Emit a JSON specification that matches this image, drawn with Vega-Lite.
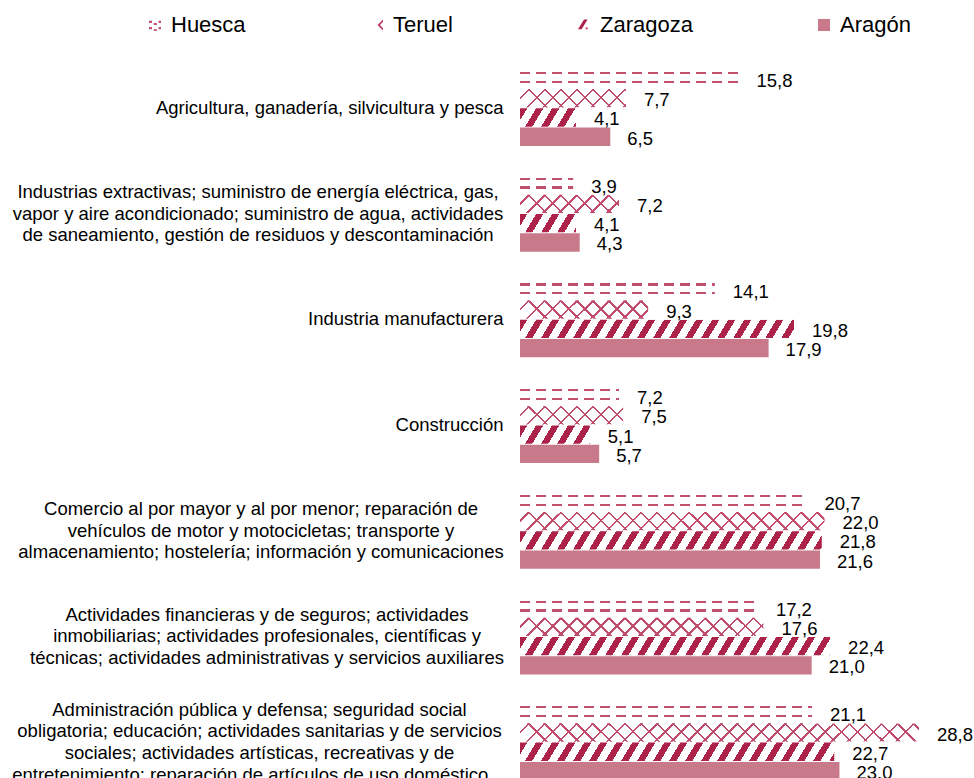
{
  "$schema": "https://vega.github.io/schema/vega-lite/v6.json",
  "width": 400,
  "height": 740,
  "autosize": {"type": "none"},
  "padding": {"left": 520, "top": 55, "right": 54, "bottom": 0},
  "background": "#ffffff",
  "config": {
    "view": {"stroke": null},
    "font": "Liberation Sans",
    "locale": {"number": {"decimal": ",", "thousands": ".", "grouping": [3], "currency": ["", " €"]}}
  },
  "data": {
    "values": [
      {"cat": "Agricultura, ganadería, silvicultura y pesca", "region": "Huesca", "value": 15.8},
      {"cat": "Agricultura, ganadería, silvicultura y pesca", "region": "Teruel", "value": 7.7},
      {"cat": "Agricultura, ganadería, silvicultura y pesca", "region": "Zaragoza", "value": 4.1},
      {"cat": "Agricultura, ganadería, silvicultura y pesca", "region": "Aragón", "value": 6.5},
      {"cat": "Industrias extractivas;  suministro de energía eléctrica, gas,|vapor y aire acondicionado; suministro de agua, actividades|de saneamiento, gestión de residuos y descontaminación", "region": "Huesca", "value": 3.9},
      {"cat": "Industrias extractivas;  suministro de energía eléctrica, gas,|vapor y aire acondicionado; suministro de agua, actividades|de saneamiento, gestión de residuos y descontaminación", "region": "Teruel", "value": 7.2},
      {"cat": "Industrias extractivas;  suministro de energía eléctrica, gas,|vapor y aire acondicionado; suministro de agua, actividades|de saneamiento, gestión de residuos y descontaminación", "region": "Zaragoza", "value": 4.1},
      {"cat": "Industrias extractivas;  suministro de energía eléctrica, gas,|vapor y aire acondicionado; suministro de agua, actividades|de saneamiento, gestión de residuos y descontaminación", "region": "Aragón", "value": 4.3},
      {"cat": "Industria manufacturera", "region": "Huesca", "value": 14.1},
      {"cat": "Industria manufacturera", "region": "Teruel", "value": 9.3},
      {"cat": "Industria manufacturera", "region": "Zaragoza", "value": 19.8},
      {"cat": "Industria manufacturera", "region": "Aragón", "value": 17.9},
      {"cat": "Construcción", "region": "Huesca", "value": 7.2},
      {"cat": "Construcción", "region": "Teruel", "value": 7.5},
      {"cat": "Construcción", "region": "Zaragoza", "value": 5.1},
      {"cat": "Construcción", "region": "Aragón", "value": 5.7},
      {"cat": "Comercio al por mayor y al por menor; reparación de|vehículos de motor y motocicletas; transporte y|almacenamiento; hostelería; información y comunicaciones", "region": "Huesca", "value": 20.7},
      {"cat": "Comercio al por mayor y al por menor; reparación de|vehículos de motor y motocicletas; transporte y|almacenamiento; hostelería; información y comunicaciones", "region": "Teruel", "value": 22.0},
      {"cat": "Comercio al por mayor y al por menor; reparación de|vehículos de motor y motocicletas; transporte y|almacenamiento; hostelería; información y comunicaciones", "region": "Zaragoza", "value": 21.8},
      {"cat": "Comercio al por mayor y al por menor; reparación de|vehículos de motor y motocicletas; transporte y|almacenamiento; hostelería; información y comunicaciones", "region": "Aragón", "value": 21.6},
      {"cat": "Actividades financieras y de seguros; actividades|inmobiliarias; actividades profesionales, científicas y|técnicas; actividades administrativas y servicios auxiliares", "region": "Huesca", "value": 17.2},
      {"cat": "Actividades financieras y de seguros; actividades|inmobiliarias; actividades profesionales, científicas y|técnicas; actividades administrativas y servicios auxiliares", "region": "Teruel", "value": 17.6},
      {"cat": "Actividades financieras y de seguros; actividades|inmobiliarias; actividades profesionales, científicas y|técnicas; actividades administrativas y servicios auxiliares", "region": "Zaragoza", "value": 22.4},
      {"cat": "Actividades financieras y de seguros; actividades|inmobiliarias; actividades profesionales, científicas y|técnicas; actividades administrativas y servicios auxiliares", "region": "Aragón", "value": 21.0},
      {"cat": "Administración pública y defensa; seguridad social|obligatoria; educación; actividades sanitarias y de servicios|sociales; actividades artísticas, recreativas y de|entretenimiento; reparación de artículos de uso doméstico…", "region": "Huesca", "value": 21.1},
      {"cat": "Administración pública y defensa; seguridad social|obligatoria; educación; actividades sanitarias y de servicios|sociales; actividades artísticas, recreativas y de|entretenimiento; reparación de artículos de uso doméstico…", "region": "Teruel", "value": 28.8},
      {"cat": "Administración pública y defensa; seguridad social|obligatoria; educación; actividades sanitarias y de servicios|sociales; actividades artísticas, recreativas y de|entretenimiento; reparación de artículos de uso doméstico…", "region": "Zaragoza", "value": 22.7},
      {"cat": "Administración pública y defensa; seguridad social|obligatoria; educación; actividades sanitarias y de servicios|sociales; actividades artísticas, recreativas y de|entretenimiento; reparación de artículos de uso doméstico…", "region": "Aragón", "value": 23.0}
    ]
  },
  "encoding": {
    "y": {
      "field": "cat", "type": "nominal", "sort": null, "title": null,
      "scale": {"paddingInner": 0.28, "paddingOuter": 0.14},
      "axis": {
        "domain": false, "ticks": false, "grid": false,
        "labelFontSize": 18.5, "labelFont": "Liberation Sans", "labelColor": "#000000", "labelLimit": 600, "labelLineHeight": 21.7,
        "labelExpr": "split(datum.label, '|')",
        "labelAlign": {"condition": {"test": "indexof(datum.value, '|') >= 0", "value": "center"}, "value": "right"},
        "labelPadding": {"condition": [
          {"test": "indexof(datum.value, 'Industrias') === 0", "value": 262.5},
          {"test": "indexof(datum.value, 'Comercio') === 0", "value": 259.5},
          {"test": "indexof(datum.value, 'Actividades') === 0", "value": 253.5},
          {"test": "indexof(datum.value, 'Administración') === 0", "value": 261}], "value": 17},
        "labelOffset": {"condition": [
          {"test": "length(split(datum.value, '|')) === 4", "value": -32.55},
          {"test": "length(split(datum.value, '|')) === 3", "value": -21.7}], "value": 0}
      }
    },
    "yOffset": {"field": "region", "type": "nominal", "sort": ["Huesca", "Teruel", "Zaragoza", "Aragón"], "scale": {"paddingInner": 0.05}}
  },
  "layer": [
    {
      "transform": [{"filter": "datum.region === 'Huesca'"}],
      "mark": {"type": "bar", "fill": {"gradient": "linear", "x1": 0, "y1": 0, "x2": 0, "y2": 1, "stops": [
        {"offset": 0, "color": "#ffffff"}, {"offset": 0.12, "color": "#ffffff"}, {"offset": 0.12, "color": "#c0506c"}, {"offset": 0.24, "color": "#c0506c"},
        {"offset": 0.24, "color": "#ffffff"}, {"offset": 0.6, "color": "#ffffff"}, {"offset": 0.6, "color": "#c0506c"}, {"offset": 0.72, "color": "#c0506c"},
        {"offset": 0.72, "color": "#ffffff"}, {"offset": 1, "color": "#ffffff"}]}},
      "encoding": {"x": {"datum": 28.8, "type": "quantitative", "scale": {"domain": [0, 28.8], "nice": false}, "axis": null}}
    },
    {
      "transform": [{"filter": "datum.region === 'Huesca'"}],
      "mark": {"type": "bar", "fill": {"gradient": "linear", "x1": 0, "y1": 0, "x2": 1, "y2": 0, "stops": [
        {"offset": 0, "color": "rgba(255,255,255,0)"}, {"offset": 0.024, "color": "rgba(255,255,255,0)"}, {"offset": 0.024, "color": "#ffffff"}, {"offset": 0.04, "color": "#ffffff"},
        {"offset": 0.04, "color": "rgba(255,255,255,0)"}, {"offset": 0.064, "color": "rgba(255,255,255,0)"}, {"offset": 0.064, "color": "#ffffff"}, {"offset": 0.08, "color": "#ffffff"},
        {"offset": 0.08, "color": "rgba(255,255,255,0)"}, {"offset": 0.104, "color": "rgba(255,255,255,0)"}, {"offset": 0.104, "color": "#ffffff"}, {"offset": 0.12, "color": "#ffffff"},
        {"offset": 0.12, "color": "rgba(255,255,255,0)"}, {"offset": 0.144, "color": "rgba(255,255,255,0)"}, {"offset": 0.144, "color": "#ffffff"}, {"offset": 0.16, "color": "#ffffff"},
        {"offset": 0.16, "color": "rgba(255,255,255,0)"}, {"offset": 0.184, "color": "rgba(255,255,255,0)"}, {"offset": 0.184, "color": "#ffffff"}, {"offset": 0.2, "color": "#ffffff"},
        {"offset": 0.2, "color": "rgba(255,255,255,0)"}, {"offset": 0.224, "color": "rgba(255,255,255,0)"}, {"offset": 0.224, "color": "#ffffff"}, {"offset": 0.24, "color": "#ffffff"},
        {"offset": 0.24, "color": "rgba(255,255,255,0)"}, {"offset": 0.264, "color": "rgba(255,255,255,0)"}, {"offset": 0.264, "color": "#ffffff"}, {"offset": 0.28, "color": "#ffffff"},
        {"offset": 0.28, "color": "rgba(255,255,255,0)"}, {"offset": 0.304, "color": "rgba(255,255,255,0)"}, {"offset": 0.304, "color": "#ffffff"}, {"offset": 0.32, "color": "#ffffff"},
        {"offset": 0.32, "color": "rgba(255,255,255,0)"}, {"offset": 0.344, "color": "rgba(255,255,255,0)"}, {"offset": 0.344, "color": "#ffffff"}, {"offset": 0.36, "color": "#ffffff"},
        {"offset": 0.36, "color": "rgba(255,255,255,0)"}, {"offset": 0.384, "color": "rgba(255,255,255,0)"}, {"offset": 0.384, "color": "#ffffff"}, {"offset": 0.4, "color": "#ffffff"},
        {"offset": 0.4, "color": "rgba(255,255,255,0)"}, {"offset": 0.424, "color": "rgba(255,255,255,0)"}, {"offset": 0.424, "color": "#ffffff"}, {"offset": 0.44, "color": "#ffffff"},
        {"offset": 0.44, "color": "rgba(255,255,255,0)"}, {"offset": 0.464, "color": "rgba(255,255,255,0)"}, {"offset": 0.464, "color": "#ffffff"}, {"offset": 0.48, "color": "#ffffff"},
        {"offset": 0.48, "color": "rgba(255,255,255,0)"}, {"offset": 0.504, "color": "rgba(255,255,255,0)"}, {"offset": 0.504, "color": "#ffffff"}, {"offset": 0.52, "color": "#ffffff"},
        {"offset": 0.52, "color": "rgba(255,255,255,0)"}, {"offset": 0.544, "color": "rgba(255,255,255,0)"}, {"offset": 0.544, "color": "#ffffff"}, {"offset": 0.56, "color": "#ffffff"},
        {"offset": 0.56, "color": "rgba(255,255,255,0)"}, {"offset": 0.584, "color": "rgba(255,255,255,0)"}, {"offset": 0.584, "color": "#ffffff"}, {"offset": 0.6, "color": "#ffffff"},
        {"offset": 0.6, "color": "rgba(255,255,255,0)"}, {"offset": 0.624, "color": "rgba(255,255,255,0)"}, {"offset": 0.624, "color": "#ffffff"}, {"offset": 0.64, "color": "#ffffff"},
        {"offset": 0.64, "color": "rgba(255,255,255,0)"}, {"offset": 0.664, "color": "rgba(255,255,255,0)"}, {"offset": 0.664, "color": "#ffffff"}, {"offset": 0.68, "color": "#ffffff"},
        {"offset": 0.68, "color": "rgba(255,255,255,0)"}, {"offset": 0.704, "color": "rgba(255,255,255,0)"}, {"offset": 0.704, "color": "#ffffff"}, {"offset": 0.72, "color": "#ffffff"},
        {"offset": 0.72, "color": "rgba(255,255,255,0)"}, {"offset": 0.744, "color": "rgba(255,255,255,0)"}, {"offset": 0.744, "color": "#ffffff"}, {"offset": 0.76, "color": "#ffffff"},
        {"offset": 0.76, "color": "rgba(255,255,255,0)"}, {"offset": 0.784, "color": "rgba(255,255,255,0)"}, {"offset": 0.784, "color": "#ffffff"}, {"offset": 0.8, "color": "#ffffff"},
        {"offset": 0.8, "color": "rgba(255,255,255,0)"}, {"offset": 0.824, "color": "rgba(255,255,255,0)"}, {"offset": 0.824, "color": "#ffffff"}, {"offset": 0.84, "color": "#ffffff"},
        {"offset": 0.84, "color": "rgba(255,255,255,0)"}, {"offset": 0.864, "color": "rgba(255,255,255,0)"}, {"offset": 0.864, "color": "#ffffff"}, {"offset": 0.88, "color": "#ffffff"},
        {"offset": 0.88, "color": "rgba(255,255,255,0)"}, {"offset": 0.904, "color": "rgba(255,255,255,0)"}, {"offset": 0.904, "color": "#ffffff"}, {"offset": 0.92, "color": "#ffffff"},
        {"offset": 0.92, "color": "rgba(255,255,255,0)"}, {"offset": 0.944, "color": "rgba(255,255,255,0)"}, {"offset": 0.944, "color": "#ffffff"}, {"offset": 0.96, "color": "#ffffff"},
        {"offset": 0.96, "color": "rgba(255,255,255,0)"}, {"offset": 0.984, "color": "rgba(255,255,255,0)"}, {"offset": 0.984, "color": "#ffffff"}, {"offset": 1, "color": "#ffffff"}]}},
      "encoding": {"x": {"datum": 28.8, "type": "quantitative", "scale": {"domain": [0, 28.8], "nice": false}, "axis": null}}
    },
    {
      "transform": [{"filter": "datum.region === 'Teruel'"}],
      "mark": {"type": "bar", "fill": {"gradient": "linear", "x1": 0, "y1": 0, "x2": 1, "y2": 0.046, "stops": [
        {"offset": 0, "color": "#ffffff"},
        {"offset": 0.02, "color": "#ffffff"}, {"offset": 0.02, "color": "#c24c6c"}, {"offset": 0.026, "color": "#c24c6c"}, {"offset": 0.026, "color": "#ffffff"},
        {"offset": 0.06, "color": "#ffffff"}, {"offset": 0.06, "color": "#c24c6c"}, {"offset": 0.066, "color": "#c24c6c"}, {"offset": 0.066, "color": "#ffffff"},
        {"offset": 0.1, "color": "#ffffff"}, {"offset": 0.1, "color": "#c24c6c"}, {"offset": 0.106, "color": "#c24c6c"}, {"offset": 0.106, "color": "#ffffff"},
        {"offset": 0.14, "color": "#ffffff"}, {"offset": 0.14, "color": "#c24c6c"}, {"offset": 0.146, "color": "#c24c6c"}, {"offset": 0.146, "color": "#ffffff"},
        {"offset": 0.18, "color": "#ffffff"}, {"offset": 0.18, "color": "#c24c6c"}, {"offset": 0.186, "color": "#c24c6c"}, {"offset": 0.186, "color": "#ffffff"},
        {"offset": 0.22, "color": "#ffffff"}, {"offset": 0.22, "color": "#c24c6c"}, {"offset": 0.226, "color": "#c24c6c"}, {"offset": 0.226, "color": "#ffffff"},
        {"offset": 0.26, "color": "#ffffff"}, {"offset": 0.26, "color": "#c24c6c"}, {"offset": 0.266, "color": "#c24c6c"}, {"offset": 0.266, "color": "#ffffff"},
        {"offset": 0.3, "color": "#ffffff"}, {"offset": 0.3, "color": "#c24c6c"}, {"offset": 0.306, "color": "#c24c6c"}, {"offset": 0.306, "color": "#ffffff"},
        {"offset": 0.34, "color": "#ffffff"}, {"offset": 0.34, "color": "#c24c6c"}, {"offset": 0.346, "color": "#c24c6c"}, {"offset": 0.346, "color": "#ffffff"},
        {"offset": 0.38, "color": "#ffffff"}, {"offset": 0.38, "color": "#c24c6c"}, {"offset": 0.386, "color": "#c24c6c"}, {"offset": 0.386, "color": "#ffffff"},
        {"offset": 0.42, "color": "#ffffff"}, {"offset": 0.42, "color": "#c24c6c"}, {"offset": 0.426, "color": "#c24c6c"}, {"offset": 0.426, "color": "#ffffff"},
        {"offset": 0.46, "color": "#ffffff"}, {"offset": 0.46, "color": "#c24c6c"}, {"offset": 0.466, "color": "#c24c6c"}, {"offset": 0.466, "color": "#ffffff"},
        {"offset": 0.5, "color": "#ffffff"}, {"offset": 0.5, "color": "#c24c6c"}, {"offset": 0.506, "color": "#c24c6c"}, {"offset": 0.506, "color": "#ffffff"},
        {"offset": 0.54, "color": "#ffffff"}, {"offset": 0.54, "color": "#c24c6c"}, {"offset": 0.546, "color": "#c24c6c"}, {"offset": 0.546, "color": "#ffffff"},
        {"offset": 0.58, "color": "#ffffff"}, {"offset": 0.58, "color": "#c24c6c"}, {"offset": 0.586, "color": "#c24c6c"}, {"offset": 0.586, "color": "#ffffff"},
        {"offset": 0.62, "color": "#ffffff"}, {"offset": 0.62, "color": "#c24c6c"}, {"offset": 0.626, "color": "#c24c6c"}, {"offset": 0.626, "color": "#ffffff"},
        {"offset": 0.66, "color": "#ffffff"}, {"offset": 0.66, "color": "#c24c6c"}, {"offset": 0.666, "color": "#c24c6c"}, {"offset": 0.666, "color": "#ffffff"},
        {"offset": 0.7, "color": "#ffffff"}, {"offset": 0.7, "color": "#c24c6c"}, {"offset": 0.706, "color": "#c24c6c"}, {"offset": 0.706, "color": "#ffffff"},
        {"offset": 0.74, "color": "#ffffff"}, {"offset": 0.74, "color": "#c24c6c"}, {"offset": 0.746, "color": "#c24c6c"}, {"offset": 0.746, "color": "#ffffff"},
        {"offset": 0.78, "color": "#ffffff"}, {"offset": 0.78, "color": "#c24c6c"}, {"offset": 0.786, "color": "#c24c6c"}, {"offset": 0.786, "color": "#ffffff"},
        {"offset": 0.82, "color": "#ffffff"}, {"offset": 0.82, "color": "#c24c6c"}, {"offset": 0.826, "color": "#c24c6c"}, {"offset": 0.826, "color": "#ffffff"},
        {"offset": 0.86, "color": "#ffffff"}, {"offset": 0.86, "color": "#c24c6c"}, {"offset": 0.866, "color": "#c24c6c"}, {"offset": 0.866, "color": "#ffffff"},
        {"offset": 0.9, "color": "#ffffff"}, {"offset": 0.9, "color": "#c24c6c"}, {"offset": 0.906, "color": "#c24c6c"}, {"offset": 0.906, "color": "#ffffff"},
        {"offset": 0.94, "color": "#ffffff"}, {"offset": 0.94, "color": "#c24c6c"}, {"offset": 0.946, "color": "#c24c6c"}, {"offset": 0.946, "color": "#ffffff"},
        {"offset": 0.98, "color": "#ffffff"}, {"offset": 0.98, "color": "#c24c6c"}, {"offset": 0.986, "color": "#c24c6c"}, {"offset": 0.986, "color": "#ffffff"},
        {"offset": 1, "color": "#ffffff"}]}},
      "encoding": {"x": {"datum": 28.8, "type": "quantitative", "scale": {"domain": [0, 28.8], "nice": false}, "axis": null}}
    },
    {
      "transform": [{"filter": "datum.region === 'Teruel'"}],
      "mark": {"type": "bar", "fill": {"gradient": "linear", "x1": 0, "y1": 0.046, "x2": 1, "y2": 0, "stops": [
        {"offset": 0, "color": "rgba(255,255,255,0)"},
        {"offset": 0.02, "color": "rgba(255,255,255,0)"}, {"offset": 0.02, "color": "#c24c6c"}, {"offset": 0.026, "color": "#c24c6c"}, {"offset": 0.026, "color": "rgba(255,255,255,0)"},
        {"offset": 0.06, "color": "rgba(255,255,255,0)"}, {"offset": 0.06, "color": "#c24c6c"}, {"offset": 0.066, "color": "#c24c6c"}, {"offset": 0.066, "color": "rgba(255,255,255,0)"},
        {"offset": 0.1, "color": "rgba(255,255,255,0)"}, {"offset": 0.1, "color": "#c24c6c"}, {"offset": 0.106, "color": "#c24c6c"}, {"offset": 0.106, "color": "rgba(255,255,255,0)"},
        {"offset": 0.14, "color": "rgba(255,255,255,0)"}, {"offset": 0.14, "color": "#c24c6c"}, {"offset": 0.146, "color": "#c24c6c"}, {"offset": 0.146, "color": "rgba(255,255,255,0)"},
        {"offset": 0.18, "color": "rgba(255,255,255,0)"}, {"offset": 0.18, "color": "#c24c6c"}, {"offset": 0.186, "color": "#c24c6c"}, {"offset": 0.186, "color": "rgba(255,255,255,0)"},
        {"offset": 0.22, "color": "rgba(255,255,255,0)"}, {"offset": 0.22, "color": "#c24c6c"}, {"offset": 0.226, "color": "#c24c6c"}, {"offset": 0.226, "color": "rgba(255,255,255,0)"},
        {"offset": 0.26, "color": "rgba(255,255,255,0)"}, {"offset": 0.26, "color": "#c24c6c"}, {"offset": 0.266, "color": "#c24c6c"}, {"offset": 0.266, "color": "rgba(255,255,255,0)"},
        {"offset": 0.3, "color": "rgba(255,255,255,0)"}, {"offset": 0.3, "color": "#c24c6c"}, {"offset": 0.306, "color": "#c24c6c"}, {"offset": 0.306, "color": "rgba(255,255,255,0)"},
        {"offset": 0.34, "color": "rgba(255,255,255,0)"}, {"offset": 0.34, "color": "#c24c6c"}, {"offset": 0.346, "color": "#c24c6c"}, {"offset": 0.346, "color": "rgba(255,255,255,0)"},
        {"offset": 0.38, "color": "rgba(255,255,255,0)"}, {"offset": 0.38, "color": "#c24c6c"}, {"offset": 0.386, "color": "#c24c6c"}, {"offset": 0.386, "color": "rgba(255,255,255,0)"},
        {"offset": 0.42, "color": "rgba(255,255,255,0)"}, {"offset": 0.42, "color": "#c24c6c"}, {"offset": 0.426, "color": "#c24c6c"}, {"offset": 0.426, "color": "rgba(255,255,255,0)"},
        {"offset": 0.46, "color": "rgba(255,255,255,0)"}, {"offset": 0.46, "color": "#c24c6c"}, {"offset": 0.466, "color": "#c24c6c"}, {"offset": 0.466, "color": "rgba(255,255,255,0)"},
        {"offset": 0.5, "color": "rgba(255,255,255,0)"}, {"offset": 0.5, "color": "#c24c6c"}, {"offset": 0.506, "color": "#c24c6c"}, {"offset": 0.506, "color": "rgba(255,255,255,0)"},
        {"offset": 0.54, "color": "rgba(255,255,255,0)"}, {"offset": 0.54, "color": "#c24c6c"}, {"offset": 0.546, "color": "#c24c6c"}, {"offset": 0.546, "color": "rgba(255,255,255,0)"},
        {"offset": 0.58, "color": "rgba(255,255,255,0)"}, {"offset": 0.58, "color": "#c24c6c"}, {"offset": 0.586, "color": "#c24c6c"}, {"offset": 0.586, "color": "rgba(255,255,255,0)"},
        {"offset": 0.62, "color": "rgba(255,255,255,0)"}, {"offset": 0.62, "color": "#c24c6c"}, {"offset": 0.626, "color": "#c24c6c"}, {"offset": 0.626, "color": "rgba(255,255,255,0)"},
        {"offset": 0.66, "color": "rgba(255,255,255,0)"}, {"offset": 0.66, "color": "#c24c6c"}, {"offset": 0.666, "color": "#c24c6c"}, {"offset": 0.666, "color": "rgba(255,255,255,0)"},
        {"offset": 0.7, "color": "rgba(255,255,255,0)"}, {"offset": 0.7, "color": "#c24c6c"}, {"offset": 0.706, "color": "#c24c6c"}, {"offset": 0.706, "color": "rgba(255,255,255,0)"},
        {"offset": 0.74, "color": "rgba(255,255,255,0)"}, {"offset": 0.74, "color": "#c24c6c"}, {"offset": 0.746, "color": "#c24c6c"}, {"offset": 0.746, "color": "rgba(255,255,255,0)"},
        {"offset": 0.78, "color": "rgba(255,255,255,0)"}, {"offset": 0.78, "color": "#c24c6c"}, {"offset": 0.786, "color": "#c24c6c"}, {"offset": 0.786, "color": "rgba(255,255,255,0)"},
        {"offset": 0.82, "color": "rgba(255,255,255,0)"}, {"offset": 0.82, "color": "#c24c6c"}, {"offset": 0.826, "color": "#c24c6c"}, {"offset": 0.826, "color": "rgba(255,255,255,0)"},
        {"offset": 0.86, "color": "rgba(255,255,255,0)"}, {"offset": 0.86, "color": "#c24c6c"}, {"offset": 0.866, "color": "#c24c6c"}, {"offset": 0.866, "color": "rgba(255,255,255,0)"},
        {"offset": 0.9, "color": "rgba(255,255,255,0)"}, {"offset": 0.9, "color": "#c24c6c"}, {"offset": 0.906, "color": "#c24c6c"}, {"offset": 0.906, "color": "rgba(255,255,255,0)"},
        {"offset": 0.94, "color": "rgba(255,255,255,0)"}, {"offset": 0.94, "color": "#c24c6c"}, {"offset": 0.946, "color": "#c24c6c"}, {"offset": 0.946, "color": "rgba(255,255,255,0)"},
        {"offset": 0.98, "color": "rgba(255,255,255,0)"}, {"offset": 0.98, "color": "#c24c6c"}, {"offset": 0.986, "color": "#c24c6c"}, {"offset": 0.986, "color": "rgba(255,255,255,0)"},
        {"offset": 1, "color": "rgba(255,255,255,0)"}]}},
      "encoding": {"x": {"datum": 28.8, "type": "quantitative", "scale": {"domain": [0, 28.8], "nice": false}, "axis": null}}
    },
    {
      "transform": [{"filter": "datum.region === 'Zaragoza'"}],
      "mark": {"type": "bar", "fill": {"gradient": "linear", "x1": 0, "y1": 0, "x2": 1, "y2": 0.0275, "stops": [
        {"offset": 0, "color": "#ad2249"}, {"offset": 0.018, "color": "#ad2249"}, {"offset": 0.018, "color": "#ffffff"}, {"offset": 0.04, "color": "#ffffff"},
        {"offset": 0.04, "color": "#ad2249"}, {"offset": 0.058, "color": "#ad2249"}, {"offset": 0.058, "color": "#ffffff"}, {"offset": 0.08, "color": "#ffffff"},
        {"offset": 0.08, "color": "#ad2249"}, {"offset": 0.098, "color": "#ad2249"}, {"offset": 0.098, "color": "#ffffff"}, {"offset": 0.12, "color": "#ffffff"},
        {"offset": 0.12, "color": "#ad2249"}, {"offset": 0.138, "color": "#ad2249"}, {"offset": 0.138, "color": "#ffffff"}, {"offset": 0.16, "color": "#ffffff"},
        {"offset": 0.16, "color": "#ad2249"}, {"offset": 0.178, "color": "#ad2249"}, {"offset": 0.178, "color": "#ffffff"}, {"offset": 0.2, "color": "#ffffff"},
        {"offset": 0.2, "color": "#ad2249"}, {"offset": 0.218, "color": "#ad2249"}, {"offset": 0.218, "color": "#ffffff"}, {"offset": 0.24, "color": "#ffffff"},
        {"offset": 0.24, "color": "#ad2249"}, {"offset": 0.258, "color": "#ad2249"}, {"offset": 0.258, "color": "#ffffff"}, {"offset": 0.28, "color": "#ffffff"},
        {"offset": 0.28, "color": "#ad2249"}, {"offset": 0.298, "color": "#ad2249"}, {"offset": 0.298, "color": "#ffffff"}, {"offset": 0.32, "color": "#ffffff"},
        {"offset": 0.32, "color": "#ad2249"}, {"offset": 0.338, "color": "#ad2249"}, {"offset": 0.338, "color": "#ffffff"}, {"offset": 0.36, "color": "#ffffff"},
        {"offset": 0.36, "color": "#ad2249"}, {"offset": 0.378, "color": "#ad2249"}, {"offset": 0.378, "color": "#ffffff"}, {"offset": 0.4, "color": "#ffffff"},
        {"offset": 0.4, "color": "#ad2249"}, {"offset": 0.418, "color": "#ad2249"}, {"offset": 0.418, "color": "#ffffff"}, {"offset": 0.44, "color": "#ffffff"},
        {"offset": 0.44, "color": "#ad2249"}, {"offset": 0.458, "color": "#ad2249"}, {"offset": 0.458, "color": "#ffffff"}, {"offset": 0.48, "color": "#ffffff"},
        {"offset": 0.48, "color": "#ad2249"}, {"offset": 0.498, "color": "#ad2249"}, {"offset": 0.498, "color": "#ffffff"}, {"offset": 0.52, "color": "#ffffff"},
        {"offset": 0.52, "color": "#ad2249"}, {"offset": 0.538, "color": "#ad2249"}, {"offset": 0.538, "color": "#ffffff"}, {"offset": 0.56, "color": "#ffffff"},
        {"offset": 0.56, "color": "#ad2249"}, {"offset": 0.578, "color": "#ad2249"}, {"offset": 0.578, "color": "#ffffff"}, {"offset": 0.6, "color": "#ffffff"},
        {"offset": 0.6, "color": "#ad2249"}, {"offset": 0.618, "color": "#ad2249"}, {"offset": 0.618, "color": "#ffffff"}, {"offset": 0.64, "color": "#ffffff"},
        {"offset": 0.64, "color": "#ad2249"}, {"offset": 0.658, "color": "#ad2249"}, {"offset": 0.658, "color": "#ffffff"}, {"offset": 0.68, "color": "#ffffff"},
        {"offset": 0.68, "color": "#ad2249"}, {"offset": 0.698, "color": "#ad2249"}, {"offset": 0.698, "color": "#ffffff"}, {"offset": 0.72, "color": "#ffffff"},
        {"offset": 0.72, "color": "#ad2249"}, {"offset": 0.738, "color": "#ad2249"}, {"offset": 0.738, "color": "#ffffff"}, {"offset": 0.76, "color": "#ffffff"},
        {"offset": 0.76, "color": "#ad2249"}, {"offset": 0.778, "color": "#ad2249"}, {"offset": 0.778, "color": "#ffffff"}, {"offset": 0.8, "color": "#ffffff"},
        {"offset": 0.8, "color": "#ad2249"}, {"offset": 0.818, "color": "#ad2249"}, {"offset": 0.818, "color": "#ffffff"}, {"offset": 0.84, "color": "#ffffff"},
        {"offset": 0.84, "color": "#ad2249"}, {"offset": 0.858, "color": "#ad2249"}, {"offset": 0.858, "color": "#ffffff"}, {"offset": 0.88, "color": "#ffffff"},
        {"offset": 0.88, "color": "#ad2249"}, {"offset": 0.898, "color": "#ad2249"}, {"offset": 0.898, "color": "#ffffff"}, {"offset": 0.92, "color": "#ffffff"},
        {"offset": 0.92, "color": "#ad2249"}, {"offset": 0.938, "color": "#ad2249"}, {"offset": 0.938, "color": "#ffffff"}, {"offset": 0.96, "color": "#ffffff"},
        {"offset": 0.96, "color": "#ad2249"}, {"offset": 0.978, "color": "#ad2249"}, {"offset": 0.978, "color": "#ffffff"}, {"offset": 1, "color": "#ffffff"}]}},
      "encoding": {"x": {"datum": 28.8, "type": "quantitative", "scale": {"domain": [0, 28.8], "nice": false}, "axis": null}}
    },
    {
      "transform": [{"filter": "datum.region !== 'Aragón'"}],
      "mark": {"type": "bar", "fill": "#ffffff", "stroke": "#ffffff", "strokeWidth": 2},
      "encoding": {
        "x": {"field": "value", "type": "quantitative", "scale": {"domain": [0, 28.8], "nice": false}, "axis": null},
        "x2": {"datum": 28.8}
      }
    },
    {
      "transform": [{"filter": "datum.region === 'Aragón'"}],
      "mark": {"type": "bar", "fill": "#c87a8b"},
      "encoding": {"x": {"field": "value", "type": "quantitative", "scale": {"domain": [0, 28.8], "nice": false}, "axis": null}}
    },
    {
      "mark": {"type": "point", "filled": true, "size": 0},
      "encoding": {
        "x": {"datum": 0, "type": "quantitative", "scale": {"domain": [0, 28.8], "nice": false}, "axis": null},
        "color": {"field": "region", "type": "nominal", "sort": ["Huesca", "Teruel", "Zaragoza", "Aragón"],
          "scale": {"domain": ["Huesca", "Teruel", "Zaragoza", "Aragón"], "range": ["#c0506c", "#b8385c", "#ad2249", "#c87a8b"]},
          "legend": {"orient": "none", "legendX": -376, "legendY": -41, "direction": "horizontal", "title": null, "labelFontSize": 22, "labelFont": "Liberation Sans", "labelColor": "#000000", "symbolSize": 144, "labelOffset": 5, "columnPadding": 120, "symbolStrokeWidth": 0, "symbolOpacity": 1}},
        "shape": {"field": "region", "type": "nominal", "sort": ["Huesca", "Teruel", "Zaragoza", "Aragón"],
          "scale": {"domain": ["Huesca", "Teruel", "Zaragoza", "Aragón"], "range": [
            "M-1,-0.7H-0.5V-0.35H-1Z M-0.2,-0.35H0.3V0H-0.2Z M0.6,-0.7H1V-0.35H0.6Z M-1,0.35H-0.5V0.7H-1Z M-0.2,0.7H0.3V1H-0.2Z M0.6,0.35H1V0.7H0.6Z",
            "M1,-0.9L0.1,0L1,0.9L1,0.55L0.5,0L1,-0.55Z",
            "M-1,0.7L0,-0.9L0.6,-0.9L-0.4,0.7Z M0.3,0.4H0.6V0.7H0.3Z",
            "square"]},
          "legend": {"orient": "none", "legendX": -376, "legendY": -41, "direction": "horizontal", "title": null, "labelFontSize": 22, "labelFont": "Liberation Sans", "labelColor": "#000000", "symbolSize": 144, "labelOffset": 5, "columnPadding": 120, "symbolStrokeWidth": 0, "symbolOpacity": 1}}
      }
    },
    {
      "mark": {"type": "text", "align": "left", "baseline": "middle", "dx": 17, "dy": 2, "fontSize": 18.5, "font": "Liberation Sans", "fill": "#000000"},
      "encoding": {
        "x": {"field": "value", "type": "quantitative", "scale": {"domain": [0, 28.8], "nice": false}, "axis": null},
        "text": {"field": "value", "type": "quantitative", "format": ".1f"}
      }
    }
  ]
}
